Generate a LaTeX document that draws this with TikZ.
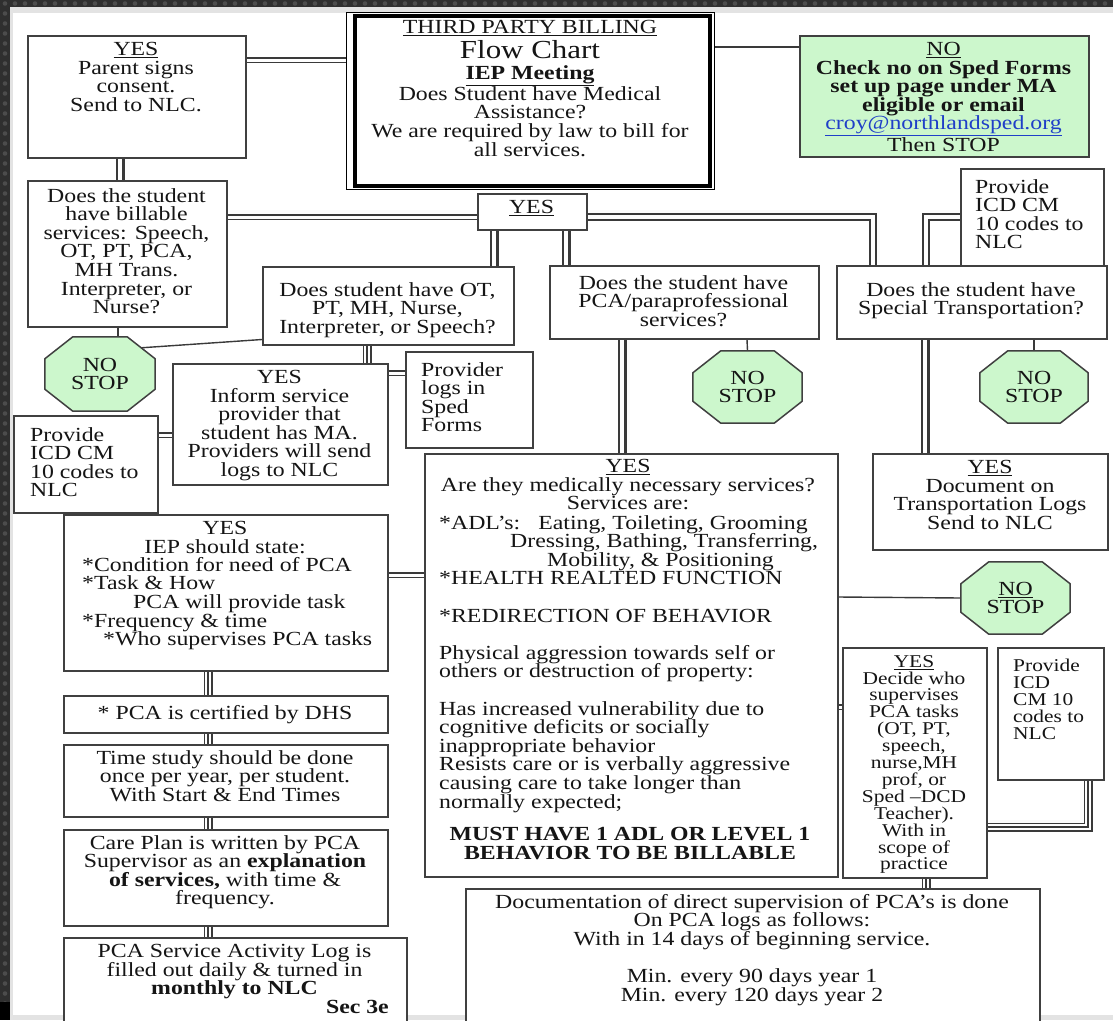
\documentclass[tikz,border=0pt]{standalone}
\usepackage{fontspec}
\setmainfont{Liberation Serif}[FakeStretch=1.19]
\usetikzlibrary{calc}
\definecolor{lc}{HTML}{3A3A3A}
\definecolor{bc}{HTML}{404040}
\definecolor{gfill}{HTML}{CCF7CC}
\definecolor{linkblue}{HTML}{1F3FC8}
\definecolor{darkbg}{HTML}{2F2F2F}
\definecolor{dotc}{HTML}{4C4C4C}
\definecolor{band}{HTML}{E3E3E3}
\definecolor{ink}{HTML}{151515}
\newcommand\bodyf{\fontsize{20}{18.6}\selectfont}
\newcommand\smallf{\fontsize{18}{16.9}\selectfont}
\newcommand\titlef{\fontsize{26}{28}\selectfont}
\newcommand\octa[1]{\filldraw[octs] ($(#1.north west)+(28,0)$) -- ($(#1.north east)+(-28,0)$) -- ($(#1.north east)+(0,22)$) -- ($(#1.south east)+(0,-22)$) -- ($(#1.south east)+(-28,0)$) -- ($(#1.south west)+(28,0)$) -- ($(#1.south west)+(0,-22)$) -- ($(#1.north west)+(0,22)$) -- cycle;}
\pgfdeclarelayer{back}\pgfdeclarelayer{links}\pgfsetlayers{back,links,main}
\begin{document}
\begin{tikzpicture}[x=1pt,y=-1pt,
 box/.style={draw=bc,line width=1.5pt,fill=white,inner sep=0pt,anchor=north west},
 txt/.style={inner sep=0pt,align=center,font=\bodyf,text=ink,anchor=north},
 ltxt/.style={inner sep=0pt,align=left,font=\bodyf,text=ink,anchor=north west},
 stopsign/.style={rectangle,inner sep=0pt,align=center,font=\bodyf,text=ink},
 octs/.style={draw=bc,line width=1.5pt,fill=gfill,line join=miter},
 single/.style={draw=lc,line width=1.4pt},
 dblh/.style={draw=lc,line width=6.5pt,postaction={draw=white,line width=3pt}},
 dblv/.style={draw=lc,line width=9pt,postaction={draw=white,line width=4pt}},
 dblc/.style={draw=lc,line width=7.5pt,line join=miter,postaction={draw=white,line width=3.5pt}},
 triple/.style={draw=lc,line width=9pt,line join=miter,postaction={draw=white,line width=5.4pt},postaction={draw=lc,line width=1.8pt}},
]
\useasboundingbox (0,0) rectangle (1113,1020);
\begin{pgfonlayer}{back}
\fill[darkbg] (0,0) rectangle (1113,1020);
\foreach \i in {0,...,111} \fill[dotc] (\i*10+5,3.5) circle (2.3pt);
\foreach \j in {1,...,100} \fill[dotc] (5,\j*10+3.5) circle (2.3pt);
\fill[black] (0,1002) rectangle (10,1020);
\fill[band] (10,7) rectangle (1113,1020);
\fill[white] (13,13) rectangle (1113,1015);
\end{pgfonlayer}

% boxes
\node[box,minimum width=218pt,minimum height=122pt] (parent) at (27,35) {};
\node[txt] (tparent) at (136,42) {\underline{YES}\\Parent signs\\consent.\\Send to NLC.};

\node[box,minimum width=368pt,minimum height=177pt,line width=1.1pt,draw=black] (title) at (346,12) {};
\draw[line width=4pt,draw=black] ($(title.north west)+(8.5,3.5)$) rectangle ($(title.south east)+(-5,-4)$);
\node[txt] (ttitle1) at (530,20) {\underline{THIRD PARTY BILLING}};
\node[txt,font=\titlef,anchor=base,text depth=0pt] (ttitle2) at (530,58) {Flow Chart};
\node[txt] (ttitle3) at (530,65) {\textbf{\underline{IEP Meeting}}\\Does Student have Medical\\Assistance?\\We are required by law to bill for\\all services.};

\node[box,fill=gfill,minimum width=289pt,minimum height=121pt] (green) at (799,35) {};
\node[txt] (tgreen) at (943.5,42) {\underline{NO}\\\textbf{Check no on Sped Forms}\\\textbf{set up page under MA}\\\textbf{eligible or email}\\\textcolor{linkblue}{\underline{croy@northlandsped.org}}\\Then STOP};

\node[box,minimum width=109pt,minimum height=36pt] (yesmid) at (477,193) {};
\node[txt] (tyesmid) at (531.5,200) {\underline{YES}};

\node[box,minimum width=199pt,minimum height=146pt] (billable) at (27,180) {};
\node[txt] (tbillable) at (126.5,188) {Does the student\\have billable\\services: Speech,\\OT, PT, PCA,\\MH Trans.\\Interpreter, or\\Nurse?};

\node[box,minimum width=251pt,minimum height=78pt] (ot) at (262,266) {};
\node[txt] (tot) at (387.5,282) {Does student have OT,\\PT, MH, Nurse,\\Interpreter, or Speech?};

\node[box,minimum width=269pt,minimum height=73pt] (pca) at (549,265) {};
\node[txt] (tpca) at (683.5,275) {Does the student have\\PCA/paraprofessional\\services?};

\node[box,minimum width=270pt,minimum height=73pt] (transport) at (836,265) {};
\node[txt] (ttransport) at (971,282) {Does the student have\\Special Transportation?};

\node[box,minimum width=143pt,minimum height=97pt] (provr1) at (960,168) {};
\node[ltxt] (tprovr1) at (975,179) {Provide\\ICD CM\\10 codes to\\NLC};

\node[stopsign,minimum width=110pt,minimum height=74pt] (stop1) at (100,374) {NO\\STOP};
\coordinate (stop1ne) at ($(stop1.north east)+(-14,11)$);

\node[box,minimum width=144pt,minimum height=97pt] (provl) at (13,415) {};
\node[ltxt] (tprovl) at (30,427) {Provide\\ICD CM\\10 codes to\\NLC};

\node[box,minimum width=215pt,minimum height=121pt] (inform) at (172,363) {};
\node[txt] (tinform) at (279.5,370) {YES\\Inform service\\provider that\\student has MA.\\Providers will send\\logs to NLC};

\node[box,minimum width=127pt,minimum height=96pt] (provlogs) at (405,351) {};
\node[ltxt] (tprovlogs) at (421,362) {Provider\\logs in\\Sped\\Forms};

\node[stopsign,minimum width=109pt,minimum height=72pt] (stop2) at (747.5,387) {NO\\STOP};
\node[stopsign,minimum width=108pt,minimum height=72pt] (stop4) at (1034,387) {NO\\STOP};

\node[box,minimum width=413pt,minimum height=423pt] (big) at (424,453) {};
\node[txt] (tbig1) at (628,459) {\underline{YES}\\Are they medically necessary services?\\Services are:};
\node[ltxt] (tbig2) at (439,515) {*ADL's:\hspace{18pt}Eating, Toileting, Grooming\\
\hspace*{71pt}Dressing, Bathing, Transferring,\\
\hspace*{108pt}Mobility, \& Positioning\\
*HEALTH REALTED FUNCTION\\[18.6pt]
*REDIRECTION OF BEHAVIOR\\[18.6pt]
Physical aggression towards self or\\
others or destruction of property:\\[18.6pt]
Has increased vulnerability due to\\
cognitive deficits or socially\\
inappropriate behavior\\
Resists care or is verbally aggressive\\
causing care to take longer than\\
normally expected;};
\node[txt,font=\bodyf\bfseries] (tbig3) at (630,827) {MUST HAVE 1 ADL OR LEVEL 1\\BEHAVIOR TO BE BILLABLE};

\node[box,minimum width=235pt,minimum height=96pt] (document) at (872,453) {};
\node[txt] (tdocument) at (990,460) {\underline{YES}\\Document on\\Transportation Logs\\Send to NLC};

\node[stopsign,minimum width=109pt,minimum height=72pt] (stop5) at (1015.5,598) {\underline{NO}\\STOP};

\node[box,minimum width=324pt,minimum height=156pt] (iep) at (63,514) {};
\node[txt] (tiep1) at (225,521) {YES\\IEP should state:};
\node[ltxt] (tiep2) at (82,557) {*Condition for need of PCA\\*Task \& How\\\hspace*{51pt}PCA will provide task\\*Frequency \& time\\\hspace*{21pt}*Who supervises PCA tasks};

\node[box,minimum width=324pt,minimum height=37pt] (cert) at (63,695) {};
\node[txt] (tcert) at (225,705) {* PCA is certified by DHS};

\node[box,minimum width=324pt,minimum height=72pt] (time) at (63,744) {};
\node[txt] (ttime) at (225,750) {Time study should be done\\once per year, per student.\\With Start \& End Times};

\node[box,minimum width=324pt,minimum height=96pt] (care) at (63,829) {};
\node[txt] (tcare) at (225,835) {Care Plan is written by PCA\\Supervisor as an \textbf{explanation}\\\textbf{of services,} with time \&\\frequency.};

\node[box,minimum width=343pt,minimum height=100pt] (log) at (63,937) {};
\node[txt] (tlog) at (234.5,944) {PCA Service Activity Log is\\filled out daily \& turned in\\\textbf{monthly to NLC}};
\node[txt,anchor=north east] (tsec) at (389,1000) {\textbf{Sec 3e}};

\node[box,minimum width=144pt,minimum height=230pt] (decide) at (842,647) {};
\node[txt,font=\smallf] (tdecide) at (914,655) {\underline{YES}\\Decide who\\supervises\\PCA tasks\\(OT, PT,\\speech,\\nurse,MH\\prof, or\\Sped --DCD\\Teacher).\\With in\\scope of\\practice};

\node[box,minimum width=106pt,minimum height=132pt] (provr2) at (997,647) {};
\node[ltxt,font=\smallf] (tprovr2) at (1013,659) {Provide\\ICD\\CM 10\\codes to\\NLC};

\node[box,minimum width=574pt,minimum height=150pt] (docu) at (465,888) {};
\node[txt] (tdocu) at (752,894) {Documentation of direct supervision of PCA's is done\\On PCA logs as follows:\\With in 14 days of beginning service.\\[18.6pt]Min. every 90 days year 1\\Min. every 120 days year 2};

% connectors
\begin{pgfonlayer}{links}
\draw[dblh] ($(parent.north east)+(0,25)$) -- ($(title.north west)+(0,48)$);
\draw[single] ($(title.north east)+(0,35)$) -- ($(green.north west)+(0,12)$);
\draw[dblv] ($(parent.south west)+(93,0)$) -- ($(billable.north west)+(93,0)$);
\draw[dblh] ($(billable.north east)+(0,37)$) -- ($(yesmid.north west)+(0,24)$);
\draw[dblv] ($(yesmid.south west)+(17,0)$) -- ($(ot.north west)+(232,0)$);
\draw[dblv] ($(yesmid.south west)+(89,0)$) -- ($(pca.north west)+(17,0)$);
\draw[dblc] ($(yesmid.north east)+(0,24)$) -| ($(transport.north west)+(37,0)$);
\draw[dblc] ($(provr1.north west)+(0,49)$) -| ($(transport.north west)+(90,0)$);
\draw[single] ($(billable.south west)+(91,0)$) -- ($(stop1.north)+(18,0)$);
\draw[single] ($(ot.south west)+(0,-6)$) -- (stop1ne);
\draw[triple] ($(ot.south west)+(105,0)$) -- ($(inform.north west)+(195,0)$);
\draw[dblh] ($(inform.north east)+(0,10)$) -- ($(provlogs.north west)+(0,22)$);
\draw[dblh] ($(provl.north east)+(0,20)$) -- ($(inform.north west)+(0,72)$);
\draw[dblv] ($(pca.south west)+(73,0)$) -- ($(big.north west)+(198,0)$);
\draw[single] ($(pca.south west)+(198,0)$) -- (stop2.north);
\draw[dblv] ($(transport.south west)+(89,0)$) -- ($(document.north west)+(53,0)$);
\draw[single] ($(transport.south west)+(198,0)$) -- (stop4.north);
\draw[dblh] ($(iep.north east)+(0,61)$) -- ($(big.north west)+(0,122)$);
\draw[single] ($(big.north east)+(0,144)$) -- (stop5.west);
\draw[dblh] ($(big.north east)+(0,254)$) -- ($(decide.north west)+(0,60)$);
\draw[triple] ($(provr2.south west)+(91,0)$) |- ($(decide.north east)+(0,180)$);
\draw[triple] ($(decide.south west)+(84,0)$) -- ($(docu.north west)+(461,0)$);
\draw[triple] ($(iep.south west)+(145,0)$) -- ($(cert.north west)+(145,0)$);
\draw[triple] ($(cert.south west)+(145,0)$) -- ($(time.north west)+(145,0)$);
\draw[triple] ($(time.south west)+(145,0)$) -- ($(care.north west)+(145,0)$);
\draw[triple] ($(care.south west)+(145,0)$) -- ($(log.north west)+(145,0)$);
\octa{stop1}
\octa{stop2}
\octa{stop4}
\octa{stop5}
\end{pgfonlayer}
\end{tikzpicture}
\end{document}
